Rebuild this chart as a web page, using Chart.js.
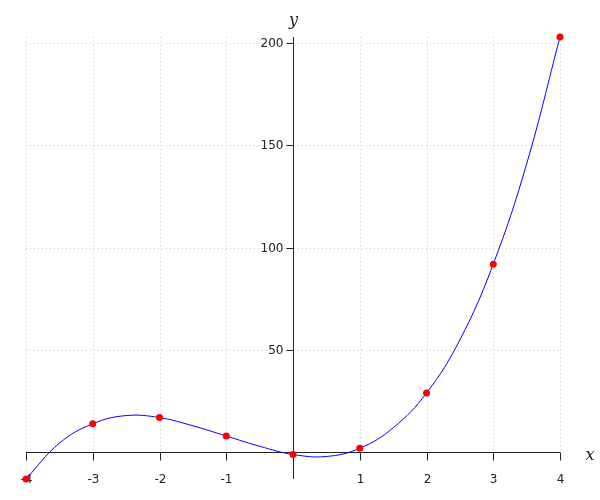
<!DOCTYPE html>
<html>
<head>
<meta charset="utf-8">
<script src="https://cdn.jsdelivr.net/npm/chart.js@4/dist/chart.umd.min.js"></script>
<style>
  html, body { margin: 0; padding: 0; background: #fff; }
  #wrap { width: 600px; height: 500px; position: relative; }
</style>
</head>
<body>
<div id="wrap"><canvas id="plot"></canvas></div>
<script>
// sample points (red dots)
const pointX = [-4, -3, -2, -1, 0, 1, 2, 3, 4];
const pointY = [-13, 14, 17, 8, -1, 2, 29, 92, 203];

// blue curve, every half step
const curveX = [-4, -3.5, -3, -2.5, -2, -1.5, -1, -0.5, 0, 0.5, 1, 1.5, 2, 2.5, 3, 3.5, 4];
const curveY = [-13, 4.5, 14, 18, 17, 13, 8, 3, -1, -2, 2, 12, 29, 55, 92, 141, 203];

// axis ticks
const xTicks = [-4, -3, -2, -1, 1, 2, 3, 4];
const yTicks = [50, 100, 150, 200];

const xRange = [-4, 4];
const yRange = [-13, 203];

const gridColor = "#c8c8c8";
const axisColor = "#222";
const labelFont = "12px 'DejaVu Sans', sans-serif";

// axes through the origin, dotted grid, tick labels, x / y titles
const crossAxes = {
  id: "crossAxes",
  beforeDatasetsDraw(chart) {
    const { ctx, chartArea: area } = chart;
    const xs = chart.scales.x;
    const ys = chart.scales.y;
    const x0 = Math.round(xs.getPixelForValue(0)) + 0.5;
    const y0 = Math.round(ys.getPixelForValue(0)) + 0.5;

    ctx.save();
    // dotted grid
    ctx.strokeStyle = gridColor;
    ctx.lineWidth = 1;
    ctx.setLineDash([1, 3]);
    xTicks.forEach(v => {
      const px = Math.round(xs.getPixelForValue(v)) + 0.5;
      ctx.beginPath();
      ctx.moveTo(px, area.top);
      ctx.lineTo(px, y0);
      ctx.stroke();
    });
    yTicks.forEach(v => {
      const py = Math.round(ys.getPixelForValue(v)) + 0.5;
      ctx.beginPath();
      ctx.moveTo(area.left, py);
      ctx.lineTo(area.right, py);
      ctx.stroke();
    });
    ctx.setLineDash([]);

    // axes
    ctx.strokeStyle = axisColor;
    ctx.lineWidth = 1;
    ctx.beginPath();
    ctx.moveTo(area.left, y0);
    ctx.lineTo(area.right, y0);
    ctx.moveTo(x0, area.top);
    ctx.lineTo(x0, area.bottom);
    ctx.stroke();

    // tick marks + labels
    ctx.fillStyle = axisColor;
    ctx.font = labelFont;
    ctx.textAlign = "center";
    ctx.textBaseline = "middle";
    xTicks.forEach(v => {
      const px = Math.round(xs.getPixelForValue(v)) + 0.5;
      ctx.beginPath();
      ctx.moveTo(px, y0);
      ctx.lineTo(px, y0 + 8);
      ctx.stroke();
      ctx.fillText(String(v), px, y0 + 27);
    });
    ctx.textAlign = "right";
    yTicks.forEach(v => {
      const py = Math.round(ys.getPixelForValue(v)) + 0.5;
      ctx.beginPath();
      ctx.moveTo(x0 - 7, py);
      ctx.lineTo(x0, py);
      ctx.stroke();
      ctx.fillText(String(v), x0 - 10, py);
    });

    // axis names
    ctx.font = "italic 16px 'DejaVu Serif', serif";
    ctx.textAlign = "center";
    ctx.textBaseline = "alphabetic";
    ctx.fillText("y", x0, area.top - 12);
    ctx.fillText("x", area.right + 30, y0 + 7);
    ctx.restore();
  }
};

const ctx = document.getElementById("plot").getContext("2d");

const chart = new Chart(ctx, {
  type: "scatter",
  data: {
    datasets: [{
      label: "points",
      data: pointX.map((x, i) => ({ x, y: pointY[i] })),
      backgroundColor: "#ff0000",
      borderWidth: 0,
      pointRadius: 3.5,
      showLine: false,
      clip: false,
      order: 0
    }, {
      label: "curve",
      data: curveX.map((x, i) => ({ x, y: curveY[i] })),
      borderColor: "#0000ff",
      borderWidth: 1,
      pointRadius: 0,
      showLine: true,
      tension: 0.4,
      fill: false,
      clip: false,
      order: 1
    }]
  },
  options: {
    responsive: true,
    maintainAspectRatio: false,
    animation: false,
    layout: { padding: { left: 26, right: 40, top: 37, bottom: 21 } },
    plugins: { legend: { display: false }, tooltip: { enabled: false } },
    scales: {
      x: { type: "linear", min: xRange[0], max: xRange[1], display: false },
      y: { type: "linear", min: yRange[0], max: yRange[1], display: false }
    }
  },
  plugins: [crossAxes]
});
</script>
</body>
</html>
